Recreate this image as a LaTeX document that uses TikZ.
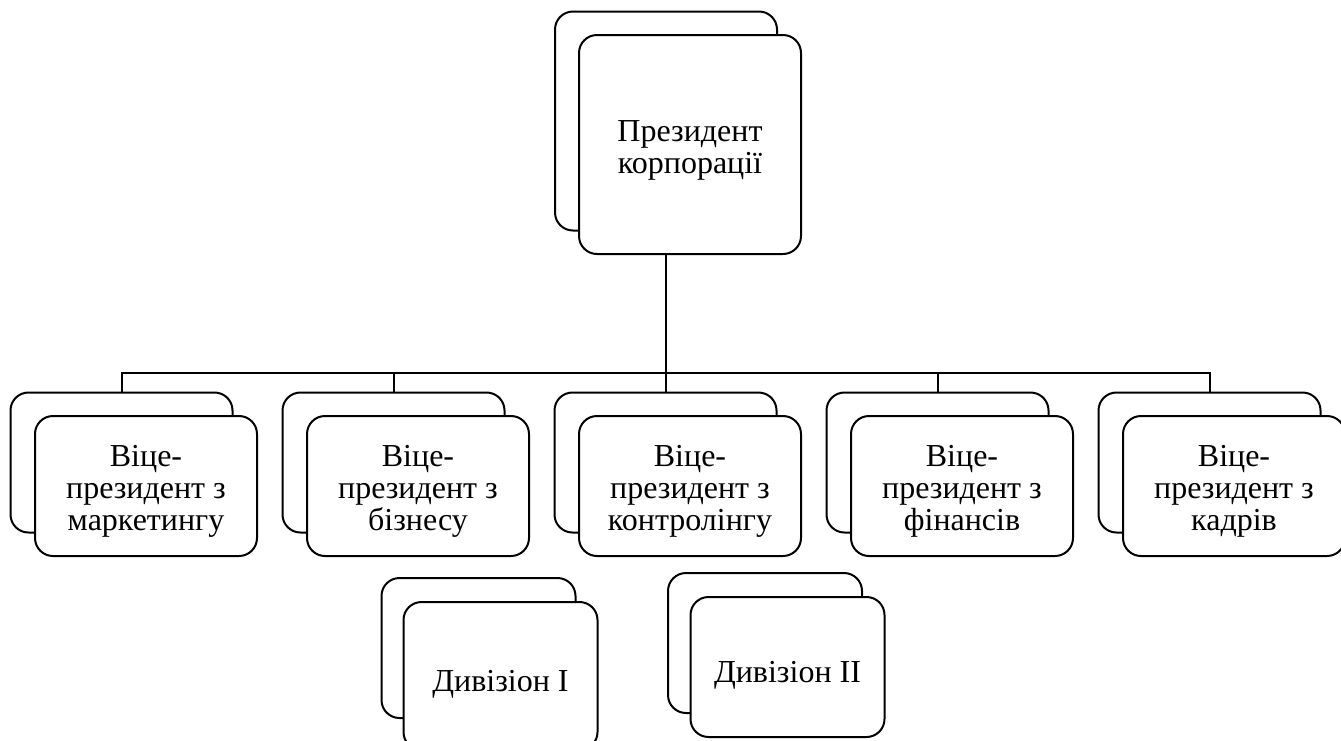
\documentclass[tikz,border=0pt]{standalone}
\usepackage{fontspec}
\setmainfont{Liberation Serif}

\begin{document}
\begin{tikzpicture}[x=1pt,y=-1pt,line width=2pt,
    card/.style={draw,rounded corners=18pt,fill=white,inner sep=0pt,outer sep=0pt,
      align=center,font=\fontsize{32}{32}\selectfont,text depth=7pt},
    bigcard/.style={card,minimum width=222pt,minimum height=219pt,text height=65pt},
    vpcard/.style={card,minimum width=222pt,minimum height=140pt,text height=96pt},
    divcard/.style={card,minimum width=194pt,minimum height=140pt,text height=38.5pt}]
  \useasboundingbox (0,0) rectangle (1341,740);
  \clip (0,0) rectangle (1341,740);
  % back cards
  \node[bigcard] (pres-b) at (666,121) {};
  \node[vpcard] (vp1-b) at (121.5,462.5) {};
  \node[vpcard] (vp2-b) at (393.5,462.5) {};
  \node[vpcard] (vp3-b) at (665.5,462.5) {};
  \node[vpcard] (vp4-b) at (937.5,462.5) {};
  \node[vpcard] (vp5-b) at (1209.5,462.5) {};
  \node[divcard] (div1-b) at (478.5,648) {};
  \node[divcard] (div2-b) at (765,643) {};
  % connectors
  \coordinate (bar) at (666,373);
  \draw (pres-b.south) -- (bar);
  \draw (vp1-b.north) |- (bar) -| (vp5-b.north);
  \draw (vp2-b.north) -- (vp2-b.north |- bar);
  \draw (vp3-b.north) -- (vp3-b.north |- bar);
  \draw (vp4-b.north) -- (vp4-b.north |- bar);
  % front cards
  \node[bigcard] (pres) at (690,144.5) {Президент\\корпорації};
  \node[vpcard] (vp1) at (146,486) {Віце-\\президент з\\маркетингу};
  \node[vpcard] (vp2) at (418,486) {Віце-\\президент з\\бізнесу};
  \node[vpcard] (vp3) at (690,486) {Віце-\\президент з\\контролінгу};
  \node[vpcard] (vp4) at (962,486) {Віце-\\президент з\\фінансів};
  \node[vpcard] (vp5) at (1234,486) {Віце-\\президент з\\кадрів};
  \node[divcard,minimum height=148pt] (div1) at (500.5,676) {Дивізіон I};
  \node[divcard] (div2) at (787.5,667) {Дивізіон II};
\end{tikzpicture}
\end{document}
